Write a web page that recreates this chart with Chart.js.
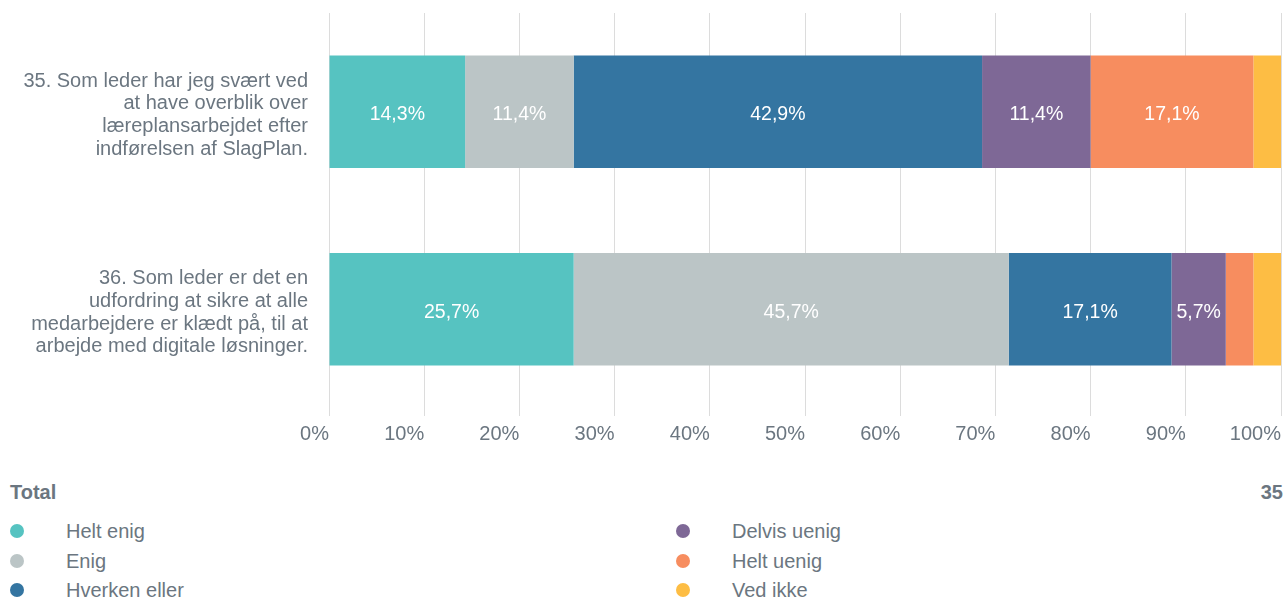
<!DOCTYPE html>
<html>
<head>
<meta charset="utf-8">
<script src="https://cdn.jsdelivr.net/npm/chart.js@4/dist/chart.umd.min.js"></script>
<style>
  html, body { margin: 0; padding: 0; background: #fff; }
  body { width: 1285px; height: 600px; position: relative; overflow: hidden; font-family: "Liberation Sans", Arial, sans-serif; color: #6b7680; }
  #wrap { position: absolute; left: 0; top: 0; width: 1285px; height: 450px; }
  #total { position: absolute; left: 10px; top: 480px; font-weight: bold; font-size: 20px; line-height: 24px; color: #6b7680; }
  #n { position: absolute; right: 2px; top: 480px; font-weight: bold; font-size: 20px; line-height: 24px; color: #6b7680; }
  .leg { position: absolute; font-size: 20px; height: 24px; line-height: 24px; }
  .leg .dot { position: absolute; left: 0; top: 5px; width: 14px; height: 14px; border-radius: 50%; }
  .leg .txt { position: absolute; left: 56px; top: 0; white-space: nowrap; }
</style>
</head>
<body>
<div id="wrap"><canvas id="c"></canvas></div>
<div id="total">Total</div>
<div id="n">35</div>
<div id="legend"></div>
<script>
const categories = [
  ["35. Som leder har jeg svært ved", "at have overblik over", "læreplansarbejdet efter", "indførelsen af SlagPlan."],
  ["36. Som leder er det en", "udfordring at sikre at alle", "medarbejdere er klædt på, til at", "arbejde med digitale løsninger."]
];
const seriesNames = ["Helt enig", "Enig", "Hverken eller", "Delvis uenig", "Helt uenig", "Ved ikke"];
const heltEnig = [14.3, 25.7];
const enig = [11.4, 45.7];
const hverkenEller = [42.9, 17.1];
const delvisUenig = [11.4, 5.7];
const heltUenig = [17.1, 2.9];
const vedIkke = [2.9, 2.9];
const xTicks = ["0%", "10%", "20%", "30%", "40%", "50%", "60%", "70%", "80%", "90%", "100%"];
const totalN = 35;

const colors = ["#56c3c1", "#bbc5c6", "#3475a1", "#7e6896", "#f78d5f", "#fdbd44"];
const seriesValues = [heltEnig, enig, hverkenEller, delvisUenig, heltUenig, vedIkke];

const labelPlugin = {
  id: 'segLabels',
  afterDatasetsDraw(chart) {
    const ctx = chart.ctx;
    ctx.save();
    ctx.font = '19.5px "Liberation Sans", Arial, sans-serif';
    ctx.fillStyle = '#ffffff';
    ctx.textAlign = 'center';
    ctx.textBaseline = 'middle';
    chart.data.datasets.forEach((ds, i) => {
      const meta = chart.getDatasetMeta(i);
      meta.data.forEach((bar, j) => {
        const v = ds.data[j];
        if (v < 5) return;
        const p = bar.getProps(['x', 'base', 'y'], true);
        const cx = (p.x + p.base) / 2;
        ctx.fillText(v.toFixed(1).replace('.', ',') + '%', cx, p.y + 3);
      });
    });
    ctx.restore();
  }
};

new Chart(document.getElementById('c'), {
  type: 'bar',
  data: {
    labels: categories,
    datasets: seriesNames.map((name, i) => ({
      label: name,
      data: seriesValues[i],
      backgroundColor: colors[i],
      borderWidth: 0,
      categoryPercentage: 1,
      barPercentage: 0.57
    }))
  },
  options: {
    indexAxis: 'y',
    responsive: true,
    maintainAspectRatio: false,
    animation: false,
    layout: { padding: { top: 13, right: 4, left: 0, bottom: 0 } },
    plugins: { legend: { display: false }, tooltip: { enabled: false } },
    scales: {
      x: {
        stacked: true,
        min: 0, max: 100,
        border: { display: false },
        grid: { color: '#dcdcdc', lineWidth: 1, drawTicks: true, tickLength: 8 },
        ticks: {
          stepSize: 10,
          padding: 6,
          align: 'end',
          color: '#6b7680',
          font: { family: '"Liberation Sans", Arial, sans-serif', size: 20 },
          callback: (v, i) => xTicks[i]
        },
        afterFit(scale) { scale.height = 42; scale.paddingLeft = 0; scale.paddingRight = 0; }
      },
      y: {
        stacked: true,
        border: { display: false },
        grid: { display: false, drawTicks: false },
        ticks: {
          padding: 21,
          color: '#6b7680',
          font: { family: '"Liberation Sans", Arial, sans-serif', size: 20, lineHeight: 1.135 }
        },
        afterFit(scale) {
          scale.width = 329; scale.paddingTop = 0; scale.paddingBottom = 0;
          if (!scale._shifted) {
            const orig = scale.drawLabels;
            scale.drawLabels = function (ca) {
              const ctx = this.ctx;
              ctx.save(); ctx.translate(0, 3.5);
              orig.call(this, ca);
              ctx.restore();
            };
            scale._shifted = true;
          }
        }
      }
    }
  },
  plugins: [labelPlugin]
});

const legend = document.getElementById('legend');
const pos = [[10, 519], [10, 549], [10, 578], [676, 519], [676, 549], [676, 578]];
seriesNames.forEach((name, i) => {
  const d = document.createElement('div');
  d.className = 'leg';
  d.style.left = pos[i][0] + 'px';
  d.style.top = pos[i][1] + 'px';
  d.innerHTML = '<span class="dot" style="background:' + colors[i] + '"></span><span class="txt">' + name + '</span>';
  legend.appendChild(d);
});
document.getElementById('n').textContent = totalN;
</script>
</body>
</html>
